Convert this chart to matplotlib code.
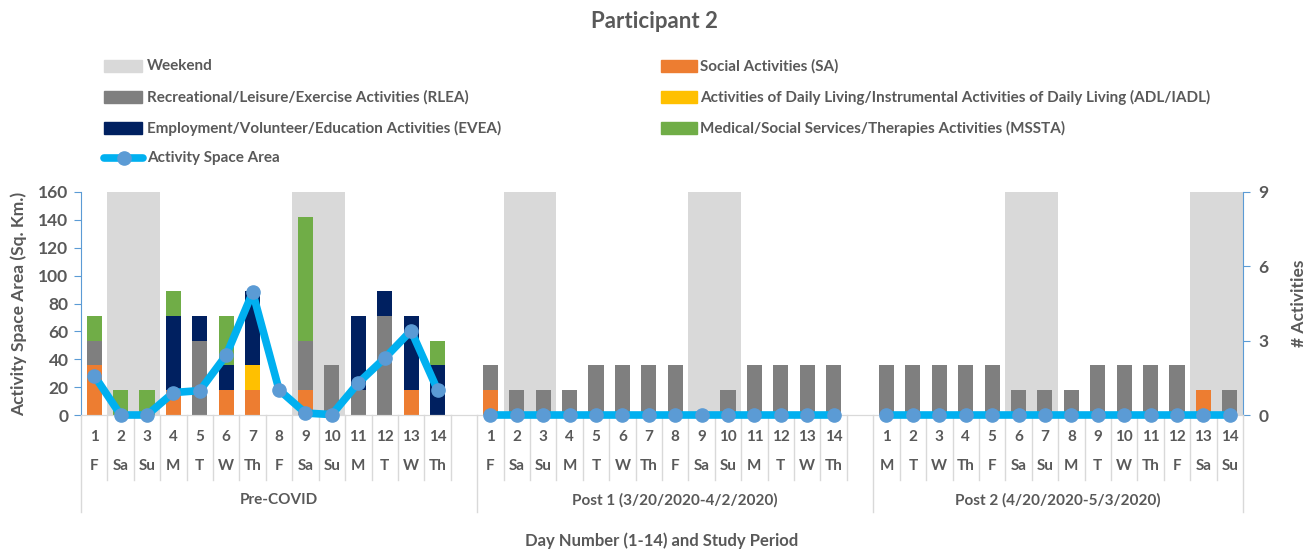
import matplotlib
matplotlib.use("Agg")
import matplotlib.pyplot as plt
import numpy as np
from matplotlib.patches import Rectangle
from matplotlib.lines import Line2D

plt.rcParams['font.family'] = ['Lato', 'DejaVu Sans']

# ---------------- data ----------------
periods = ["Pre-COVID", "Post 1 (3/20/2020-4/2/2020)", "Post 2 (4/20/2020-5/3/2020)"]
day_numbers = list(range(1, 15))
weekdays_pre = ["F", "Sa", "Su", "M", "T", "W", "Th", "F", "Sa", "Su", "M", "T", "W", "Th"]
weekdays_post1 = ["F", "Sa", "Su", "M", "T", "W", "Th", "F", "Sa", "Su", "M", "T", "W", "Th"]
weekdays_post2 = ["M", "T", "W", "Th", "F", "Sa", "Su", "M", "T", "W", "Th", "F", "Sa", "Su"]

weekend_pre = [0, 1, 1, 0, 0, 0, 0, 0, 1, 1, 0, 0, 0, 0]
weekend_post1 = [0, 1, 1, 0, 0, 0, 0, 0, 1, 1, 0, 0, 0, 0]
weekend_post2 = [0, 0, 0, 0, 0, 1, 1, 0, 0, 0, 0, 0, 1, 1]

sa_pre = [2, 0, 0, 1, 0, 1, 1, 0, 1, 0, 0, 0, 1, 0]
rlea_pre = [1, 0, 0, 0, 3, 0, 0, 0, 2, 2, 1, 4, 0, 0]
adl_pre = [0, 0, 0, 0, 0, 0, 1, 0, 0, 0, 0, 0, 0, 0]
evea_pre = [0, 0, 0, 3, 1, 1, 3, 0, 0, 0, 3, 1, 3, 2]
mssta_pre = [1, 1, 1, 1, 0, 2, 0, 0, 5, 0, 0, 0, 0, 1]

sa_post1 = [1, 0, 0, 0, 0, 0, 0, 0, 0, 0, 0, 0, 0, 0]
rlea_post1 = [1, 1, 1, 1, 2, 2, 2, 2, 0, 1, 2, 2, 2, 2]
adl_post1 = [0] * 14
evea_post1 = [0] * 14
mssta_post1 = [0] * 14

sa_post2 = [0, 0, 0, 0, 0, 0, 0, 0, 0, 0, 0, 0, 1, 0]
rlea_post2 = [2, 2, 2, 2, 2, 1, 1, 1, 2, 2, 2, 2, 0, 1]
adl_post2 = [0] * 14
evea_post2 = [0] * 14
mssta_post2 = [0] * 14

area_pre = [28.3, 0, 0, 16.1, 17.5, 43.0, 88.0, 18.0, 1.4, 0.3, 23.0, 40.8, 60.5, 18.0]
area_post1 = [0] * 14
area_post2 = [0] * 14

# ---------------- assemble with blank slot between periods ----------------
def join(a, b, c, blank=0.0):
    return list(a) + [blank] + list(b) + [blank] + list(c)

weekend = np.array(join(weekend_pre, weekend_post1, weekend_post2), float)
series = [
    ("Social Activities (SA)", "#ED7D31", join(sa_pre, sa_post1, sa_post2)),
    ("Recreational/Leisure/Exercise Activities (RLEA)", "#7F7F7F", join(rlea_pre, rlea_post1, rlea_post2)),
    ("Activities of Daily Living/Instrumental Activities of Daily Living (ADL/IADL)", "#FFC000", join(adl_pre, adl_post1, adl_post2)),
    ("Employment/Volunteer/Education Activities (EVEA)", "#002060", join(evea_pre, evea_post1, evea_post2)),
    ("Medical/Social Services/Therapies Activities (MSSTA)", "#70AD47", join(mssta_pre, mssta_post1, mssta_post2)),
]
area = np.array(join(area_pre, area_post1, area_post2, blank=np.nan), float)
n = len(area)
x = np.arange(n)

TXT = "#595959"
AX_BLUE = "#5B9BD5"
SEP = "#D9D9D9"

fig = plt.figure(figsize=(13.14, 5.51), dpi=100)
W, H = 1314, 551
left, right, top, bottom = 81, 1243, 192, 415
ax = fig.add_axes([left / W, 1 - bottom / H, (right - left) / W, (bottom - top) / H])
ax2 = ax.twinx()

# weekend background and stacked bars on secondary axis
ax2.bar(x, weekend * 9, width=1.0, color="#D9D9D9", zorder=1)
base = np.zeros(n)
for label, color, vals in series:
    v = np.array(vals, float)
    ax2.bar(x, v, width=0.57, bottom=base, color=color, zorder=2)
    base += v

ax2.set_ylim(0, 9)
ax2.set_yticks([0, 3, 6, 9])
ax.set_ylim(0, 160)
ax.set_yticks(range(0, 161, 20))
ax.set_xlim(-0.5, n - 0.5)

# line on primary axis, above bars
ax.set_zorder(ax2.get_zorder() + 1)
ax.patch.set_visible(False)
ax.plot(x, area, color="#00B0F0", lw=5.5, marker="o", ms=9.5,
        markerfacecolor=AX_BLUE, markeredgecolor=AX_BLUE, solid_capstyle="round", zorder=5, clip_on=False)

for a in (ax, ax2):
    a.spines["top"].set_visible(False)
    a.spines["bottom"].set_color(SEP)
    a.set_xticks([])
ax.spines["right"].set_visible(False)
ax2.spines["left"].set_visible(False)
ax.spines["left"].set_color(AX_BLUE)
ax2.spines["right"].set_color(AX_BLUE)
ax.tick_params(axis="y", colors=AX_BLUE, length=5, labelcolor=TXT, labelsize=12.5, pad=4)
ax2.tick_params(axis="y", colors=AX_BLUE, length=5, labelcolor=TXT, labelsize=12.5, pad=6)
for lab in ax.get_yticklabels() + ax2.get_yticklabels():
    lab.set_fontweight("bold")

ax.set_ylabel("Activity Space Area (Sq. Km.)", fontsize=12.5, fontweight="bold", color=TXT, labelpad=8)
ax2.set_ylabel("# Activities", fontsize=12.5, fontweight="bold", color=TXT, labelpad=16)

# multi-level category axis
tr = ax.get_xaxis_transform()
day_rows = [weekdays_pre, weekdays_post1, weekdays_post2]
for g in range(3):
    start = g * 15
    for i in range(14):
        xi = start + i
        ax.text(xi, -0.099, str(day_numbers[i]), transform=tr, ha="center", va="center",
                fontsize=11, fontweight="bold", color=TXT)
        ax.text(xi, -0.229, day_rows[g][i], transform=tr, ha="center", va="center",
                fontsize=11, fontweight="bold", color=TXT)
    end = start + 14 if g < 2 else start + 13
    ax.text((start - 0.5 + end + 0.5) / 2, -0.381, periods[g], transform=tr, ha="center", va="center",
            fontsize=11, fontweight="bold", color=TXT)

group_bounds = [-0.5, 14.5, 29.5, n - 0.5]
for b in np.arange(-0.5, n, 1.0):
    if any(abs(b - gb) < 1e-6 for gb in group_bounds):
        ax.add_line(Line2D([b, b], [0, -0.435], transform=tr, color=SEP, lw=1, clip_on=False))
    else:
        ax.add_line(Line2D([b, b], [0, -0.29], transform=tr, color=SEP, lw=1, clip_on=False))

fig.text((left + right) / 2 / W, 1 - 541 / H, "Day Number (1-14) and Study Period",
         ha="center", va="center", fontsize=12, fontweight="bold", color=TXT)

# title
fig.text(654 / W, 1 - 21 / H, "Participant 2", ha="center", va="center",
         fontsize=16, fontweight="bold", color=TXT)

# manual legend
def px(xp, yp):
    return xp / W, 1 - yp / H

legend_left = [("Weekend", "#D9D9D9"), (series[1][0], series[1][1]), (series[3][0], series[3][1])]
legend_right = [(series[0][0], series[0][1]), (series[2][0], series[2][1]), (series[4][0], series[4][1])]
rows_y = [66, 97, 128, 158]
for (lab, col), yy in zip(legend_left, rows_y):
    x0, y0 = px(104, yy + 6)
    fig.patches.append(Rectangle((x0, y0), 38 / W, 12 / H, transform=fig.transFigure, color=col))
    fig.text(*px(147, yy), lab, ha="left", va="center", fontsize=11, fontweight="bold", color=TXT)
for (lab, col), yy in zip(legend_right, rows_y):
    x0, y0 = px(661, yy + 6)
    fig.patches.append(Rectangle((x0, y0), 36 / W, 12 / H, transform=fig.transFigure, color=col))
    fig.text(*px(700, yy), lab, ha="left", va="center", fontsize=11, fontweight="bold", color=TXT)
# line entry
lx0, ly = px(104, 158)
lx1, _ = px(143, 158)
fig.lines.append(Line2D([lx0, lx1], [ly, ly], transform=fig.transFigure, color="#00B0F0", lw=5.5,
                        solid_capstyle="round"))
fig.lines.append(Line2D([(lx0 + lx1) / 2], [ly], transform=fig.transFigure, marker="o", ms=9.5,
                        color=AX_BLUE, lw=0))
fig.text(*px(147, 158), "Activity Space Area", ha="left", va="center", fontsize=11, fontweight="bold", color=TXT)

fig.savefig("out.png", dpi=100)
